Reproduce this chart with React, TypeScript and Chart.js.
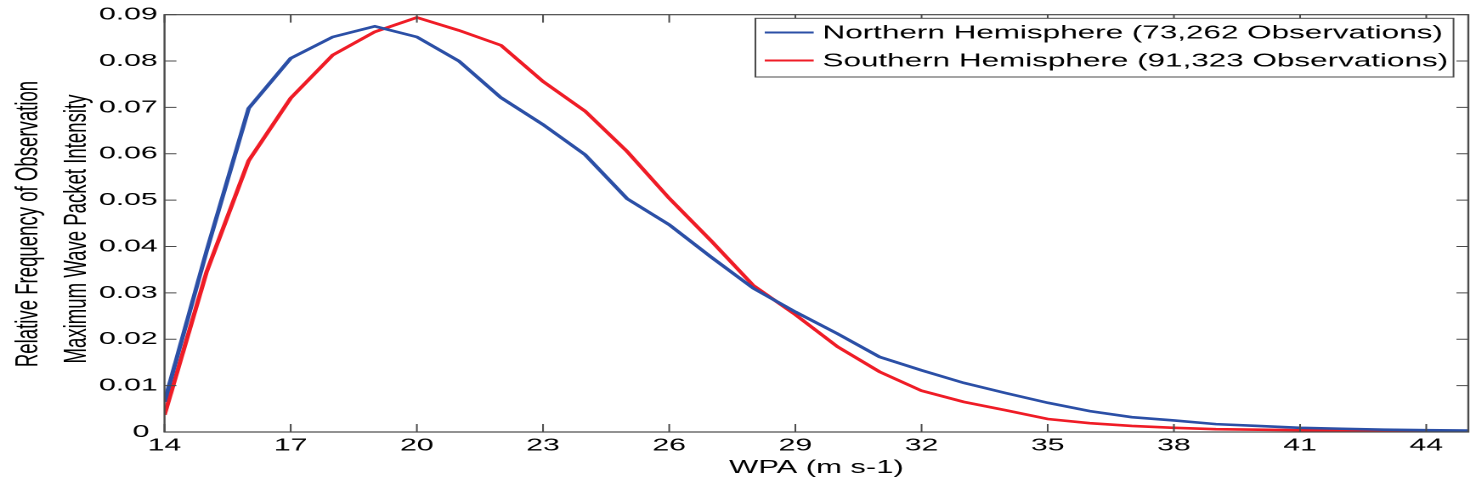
import React, { useEffect, useRef } from 'react';
import { Chart, registerables } from 'chart.js';

Chart.register(...registerables);

// ---- data ----
const wpa = [14, 15, 16, 17, 18, 19, 20, 21, 22, 23, 24, 25, 26, 27, 28, 29, 30, 31, 32, 33, 34, 35, 36, 37, 38, 39, 40, 41, 42, 43, 44, 45];
const northern = [0.0065, 0.039, 0.0698, 0.0806, 0.0852, 0.0875, 0.0852, 0.08, 0.0721, 0.0663, 0.0598, 0.0503, 0.0447, 0.0377, 0.031, 0.0259, 0.0212, 0.0162, 0.0133, 0.0106, 0.0084, 0.0063, 0.0045, 0.0032, 0.0025, 0.0017, 0.0013, 0.0009, 0.0007, 0.0005, 0.0004, 0.0003];
const southern = [0.0037, 0.0345, 0.0585, 0.072, 0.0813, 0.0863, 0.0894, 0.0866, 0.0834, 0.0756, 0.0692, 0.0605, 0.0504, 0.0412, 0.0316, 0.0253, 0.0184, 0.013, 0.0089, 0.0065, 0.0047, 0.0028, 0.0019, 0.0013, 0.0009, 0.0006, 0.0005, 0.0004, 0.0003, 0.0002, 0.0002, 0.0001];
const seriesLabels = ['Northern Hemisphere (73,262 Observations)', 'Southern Hemisphere (91,323 Observations)'];
const seriesColors = ['#2b4fa6', '#ef1c26'];
const xTicks = [14, 17, 20, 23, 26, 29, 32, 35, 38, 41, 44];
const xTickLabels = ['14', '17', '20', '23', '26', '29', '32', '35', '38', '41', '44'];
const yTicks = [0, 0.01, 0.02, 0.03, 0.04, 0.05, 0.06, 0.07, 0.08, 0.09];
const yTickLabels = ['0', '0.01', '0.02', '0.03', '0.04', '0.05', '0.06', '0.07', '0.08', '0.09'];
const xTitle = 'WPA (m s-1)';
const yTitleLines = ['Relative Frequency of Observation', 'Maximum Wave Packet Intensity'];

// ---- layout (logical canvas is stretched horizontally to 1470px) ----
const OUT_W = 1470;
const H = 491;
const STRETCH = 1.7;
const W = Math.round(OUT_W / STRETCH);
const FONT = "'Liberation Sans', Arial, Helvetica, sans-serif";
const AXIS_COLOR = '#4a4a4a';

const framePlugin = {
  id: 'matlabFrame',
  afterDraw(chart: any) {
    const { ctx, chartArea: a, scales } = chart;
    const xs = scales.x;
    const ys = scales.y;
    ctx.save();
    // box
    ctx.strokeStyle = AXIS_COLOR;
    ctx.lineWidth = 1.2;
    ctx.strokeRect(a.left, a.top, a.right - a.left, a.bottom - a.top);
    // inward ticks
    ctx.lineWidth = 1;
    ctx.beginPath();
    xTicks.forEach((v) => {
      const px = xs.getPixelForValue(v);
      ctx.moveTo(px, a.bottom);
      ctx.lineTo(px, a.bottom - 8);
      ctx.moveTo(px, a.top);
      ctx.lineTo(px, a.top + 8);
    });
    yTicks.forEach((v) => {
      const py = ys.getPixelForValue(v);
      ctx.moveTo(a.left, py);
      ctx.lineTo(a.left + 7, py);
      ctx.moveTo(a.right, py);
      ctx.lineTo(a.right - 7, py);
    });
    ctx.stroke();

    // legend box
    const lx = 444.5, ly = 18.3, lw = 855.3 - 444.5, lh = 77 - 18.3;
    ctx.fillStyle = '#ffffff';
    ctx.fillRect(lx, ly, lw, lh);
    ctx.strokeStyle = AXIS_COLOR;
    ctx.lineWidth = 1;
    ctx.strokeRect(lx, ly, lw, lh);
    const rows = [32.5, 60.5];
    chart.data.datasets.forEach((ds: any, i: number) => {
      const yy = rows[i];
      ctx.strokeStyle = ds.borderColor;
      ctx.lineWidth = 2;
      ctx.beginPath();
      ctx.moveTo(450, yy);
      ctx.lineTo(478.8, yy);
      ctx.stroke();
      ctx.fillStyle = '#000';
      ctx.font = `18.5px ${FONT}`;
      ctx.textAlign = 'left';
      ctx.textBaseline = 'middle';
      ctx.fillText(ds.label, 484, yy + 1);
    });

    // y title (two rotated lines)
    const fs = 18.6;
    const squeeze = 0.97;
    const centers = [
      { x: 17.2, y: 224 },
      { x: 45.9, y: 229 },
    ];
    yTitleLines.forEach((t, i) => {
      const c = centers[i];
      ctx.save();
      ctx.translate(c.x + squeeze * 0.253 * fs, c.y);
      ctx.rotate(-Math.PI / 2);
      ctx.scale(1, squeeze);
      ctx.fillStyle = '#000';
      ctx.font = `${fs}px ${FONT}`;
      ctx.textAlign = 'center';
      ctx.textBaseline = 'alphabetic';
      ctx.fillText(t, 0, 0);
      ctx.restore();
    });
    ctx.restore();
  },
};

export default function App() {
  const ref = useRef<HTMLCanvasElement>(null);

  useEffect(() => {
    const canvas = ref.current;
    if (!canvas) return;
    const tickFont = { family: FONT, size: 17.8 };
    const chart = new Chart(canvas, {
      type: 'line',
      data: {
        datasets: [
          {
            label: seriesLabels[0],
            data: wpa.map((x, i) => ({ x, y: northern[i] })),
            borderColor: seriesColors[0],
            backgroundColor: seriesColors[0],
            borderWidth: 2.6,
            pointRadius: 0,
            tension: 0,
            fill: false,
          },
          {
            label: seriesLabels[1],
            data: wpa.map((x, i) => ({ x, y: southern[i] })),
            borderColor: seriesColors[1],
            backgroundColor: seriesColors[1],
            borderWidth: 2.6,
            pointRadius: 0,
            tension: 0,
            fill: false,
          },
        ],
      },
      options: {
        responsive: false,
        animation: false,
        devicePixelRatio: 2,
        layout: { padding: { top: 12.7, right: 1, bottom: 0, left: 0 } },
        plugins: {
          legend: { display: false },
          tooltip: { enabled: false },
        },
        scales: {
          x: {
            type: 'linear',
            min: 14,
            max: 45,
            afterBuildTicks: (s: any) => {
              s.ticks = xTicks.map((v) => ({ value: v }));
            },
            afterFit: (s: any) => {
              s.height = H - 432;
            },
            grid: { display: false, drawTicks: false },
            border: { display: false },
            ticks: {
              color: '#000',
              font: tickFont,
              padding: 3,
              maxRotation: 0,
              autoSkip: false,
              callback: (_v: any, i: number) => xTickLabels[i],
            },
            title: {
              display: true,
              text: xTitle,
              color: '#000',
              font: { family: FONT, size: 18.2 },
              padding: { top: 0, bottom: 12 },
            },
          },
          y: {
            type: 'linear',
            min: 0,
            max: 0.09,
            afterBuildTicks: (s: any) => {
              s.ticks = yTicks.map((v) => ({ value: v }));
            },
            afterFit: (s: any) => {
              s.width = 96.8;
            },
            grid: { display: false, drawTicks: false },
            border: { display: false },
            ticks: {
              color: '#000',
              font: tickFont,
              padding: 4,
              autoSkip: false,
              callback: (_v: any, i: number) => (i === 0 ? yTickLabels[i] + ' ' : yTickLabels[i]),
            },
          },
        },
      },
      plugins: [framePlugin],
    } as any);
    return () => chart.destroy();
  }, []);

  return (
    <div
      style={{
        position: 'fixed',
        left: 0,
        top: 0,
        width: OUT_W,
        height: H,
        overflow: 'hidden',
        background: '#ffffff',
      }}
    >
      <div
        style={{
          width: W,
          height: H,
          transform: `scaleX(${OUT_W / W})`,
          transformOrigin: '0 0',
        }}
      >
        <canvas ref={ref} width={W} height={H} style={{ display: 'block', width: W, height: H }} />
      </div>
    </div>
  );
}
